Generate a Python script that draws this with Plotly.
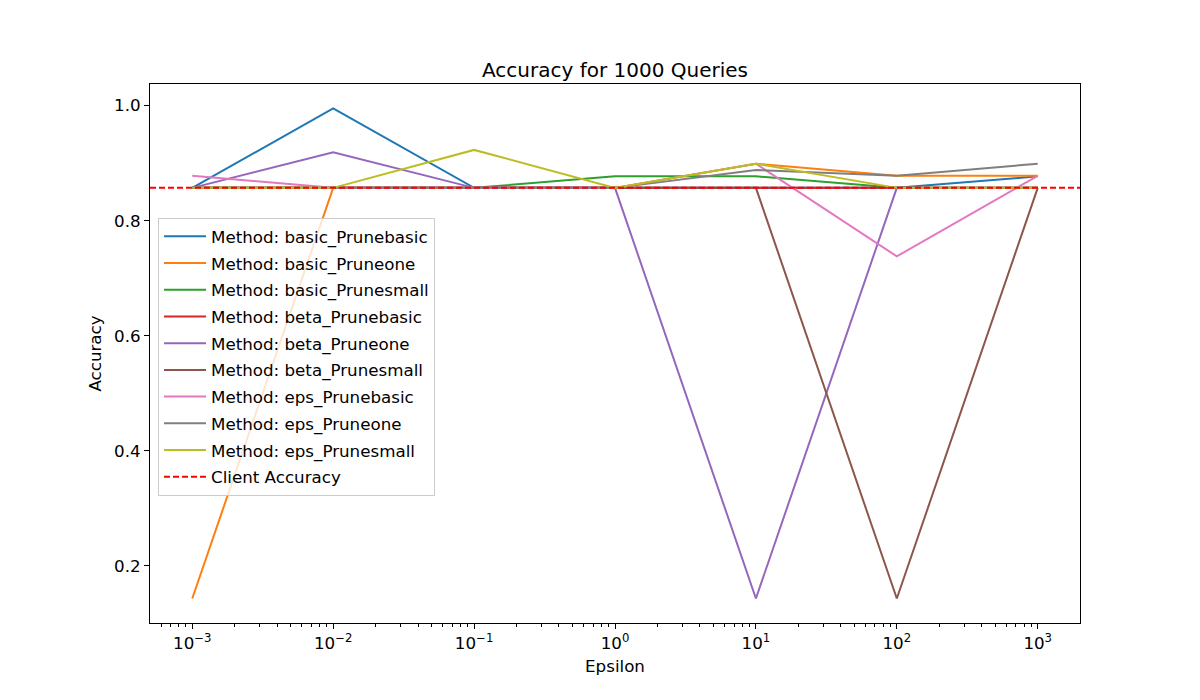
import plotly.graph_objects as go

# epsilon values on the x axis
epsilons = [1e-3, 1e-2, 1e-1, 1e0, 1e1, 1e2, 1e3]
tick_text = ["10<sup>−3</sup>", "10<sup>−2</sup>", "10<sup>−1</sup>", "10<sup>0</sup>",
             "10<sup>1</sup>", "10<sup>2</sup>", "10<sup>3</sup>"]

client_acc = 0.857

basic_Prunebasic = [0.857, 0.995, 0.857, 0.857, 0.857, 0.857, 0.877]
basic_Pruneone = [0.143, 0.857, 0.857, 0.857, 0.899, 0.878, 0.878]
basic_Prunesmall = [0.857, 0.857, 0.857, 0.877, 0.877, 0.857, 0.857]
beta_Prunebasic = [0.857, 0.857, 0.857, 0.857, 0.857, 0.857, 0.857]
beta_Pruneone = [0.857, 0.919, 0.857, 0.857, 0.143, 0.857, 0.857]
beta_Prunesmall = [0.857, 0.857, 0.857, 0.857, 0.857, 0.143, 0.857]
eps_Prunebasic = [0.878, 0.857, 0.857, 0.857, 0.899, 0.738, 0.878]
eps_Pruneone = [0.857, 0.857, 0.857, 0.857, 0.888, 0.878, 0.899]
eps_Prunesmall = [0.857, 0.857, 0.923, 0.857, 0.899, 0.857, 0.857]

methods = ["basic_Prunebasic", "basic_Pruneone", "basic_Prunesmall",
           "beta_Prunebasic", "beta_Pruneone", "beta_Prunesmall",
           "eps_Prunebasic", "eps_Pruneone", "eps_Prunesmall"]
series = [basic_Prunebasic, basic_Pruneone, basic_Prunesmall,
          beta_Prunebasic, beta_Pruneone, beta_Prunesmall,
          eps_Prunebasic, eps_Pruneone, eps_Prunesmall]
colors = ["#1f77b4", "#ff7f0e", "#2ca02c", "#d62728", "#9467bd",
          "#8c564b", "#e377c2", "#7f7f7f", "#bcbd22"]

fig = go.Figure()

for name, vals, c in zip(methods, series, colors):
    fig.add_trace(go.Scatter(x=epsilons, y=vals, mode="lines", name="Method: " + name,
                             line=dict(color=c, width=2), legendgroup=name))

# horizontal client line, plus a legend-only entry for it
fig.add_hline(y=client_acc, line=dict(color="red", width=2, dash="6px,3px"), layer="above")
fig.add_trace(go.Scatter(x=[None], y=[None], mode="lines", name="Client Accuracy",
                         line=dict(color="red", width=2, dash="6px,3px"), legendgroup="client"))

axis_style = dict(showline=True, linecolor="black", linewidth=1, mirror=True,
                  ticks="outside", ticklen=5, tickwidth=1, tickcolor="black",
                  showgrid=False, zeroline=False,
                  tickfont=dict(size=16.7, color="black"))

fig.update_xaxes(type="log", range=[-3.3, 3.3], tickvals=epsilons, ticktext=tick_text,
                 minor=dict(ticks="outside", ticklen=3, tickwidth=0.7, tickcolor="black", dtick="D1"),
                 title=dict(text="Epsilon", font=dict(size=16.7, color="black"), standoff=8),
                 **axis_style)
fig.update_yaxes(range=[0.1004, 1.0376], tickvals=[0.2, 0.4, 0.6, 0.8, 1.0],
                 ticktext=["0.2", "0.4", "0.6", "0.8", "1.0"],
                 title=dict(text="Accuracy", font=dict(size=16.7, color="black"), standoff=8),
                 **axis_style)

fig.update_layout(
    width=1200, height=700,
    margin=dict(l=142, r=128, t=76, b=85),
    paper_bgcolor="white", plot_bgcolor="white",
    font=dict(family="DejaVu Sans", color="black"),
    title=dict(text="Accuracy for 1000 Queries", x=0.5, xanchor="center", xref="paper",
               y=1, yref="paper", yanchor="bottom", pad=dict(b=7),
               font=dict(size=20, color="black")),
    legend=dict(x=0.0086, y=0.7514, xanchor="left", yanchor="top",
                bgcolor="rgba(255,255,255,0.8)", bordercolor="#cccccc", borderwidth=1,
                font=dict(size=16.7, color="black"), tracegroupgap=2, itemwidth=42),
)

fig.write_html("out.html")
